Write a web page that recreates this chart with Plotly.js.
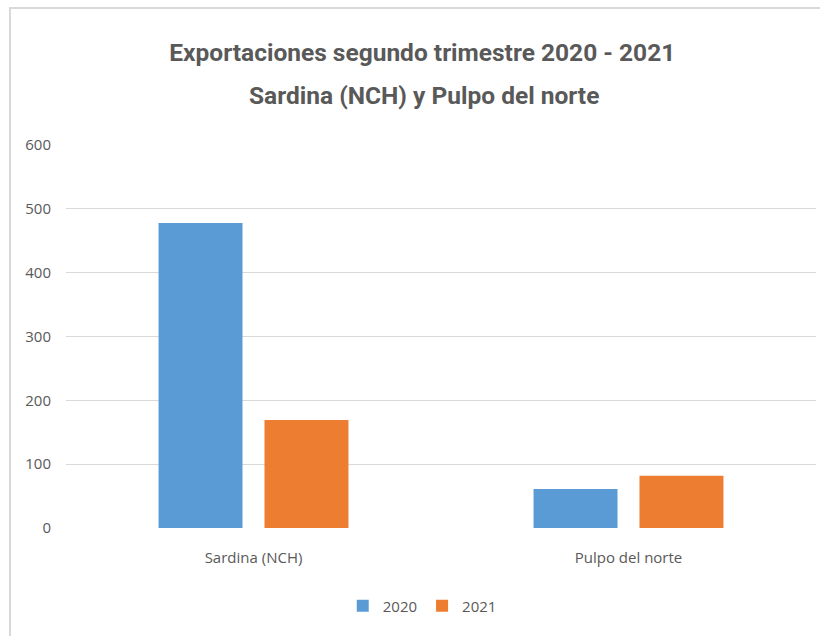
<!DOCTYPE html>
<html>
<head>
<meta charset="utf-8">
<script src="https://cdn.plot.ly/plotly-3.0.1.min.js"></script>
<style>
  html, body { margin: 0; padding: 0; background: #fff; }
  #frame { position: absolute; left: 9px; top: 7px; width: 811px; height: 629px;
           border-left: 2px solid #d9d9d9; border-top: 2px solid #d9d9d9; }
  #chart { position: absolute; left: 0; top: 0; width: 820px; height: 636px; }
</style>
</head>
<body>
<div id="frame"></div>
<div id="chart"></div>
<script>
const categories = ["Sardina (NCH)", "Pulpo del norte"];
const series2020 = [478, 61];
const series2021 = [169, 82];
const seriesNames = ["2020", "2021"];
const yTicks = [0, 100, 200, 300, 400, 500, 600];
const titleLine1 = "Exportaciones segundo trimestre 2020 - 2021";
const titleLine2 = "Sardina (NCH) y Pulpo del norte";

const fontFam = "'Open Sans', sans-serif";
const titleFam = "Roboto, 'Open Sans', sans-serif";

const data = [
  { type: "bar", name: seriesNames[0], x: categories, y: series2020,
    marker: { color: "#5B9BD5" }, hoverinfo: "none" },
  { type: "bar", name: seriesNames[1], x: categories, y: series2021,
    marker: { color: "#ED7D31" }, hoverinfo: "none" }
];

const layout = {
  width: 820, height: 636,
  paper_bgcolor: "rgba(0,0,0,0)", plot_bgcolor: "rgba(0,0,0,0)",
  margin: { l: 66, r: 4, t: 145, b: 108 },
  barmode: "group", bargap: 0.435, bargroupgap: 0.2075,
  title: {
    text: "<b>" + titleLine1 + "</b>",
    font: { family: titleFam, size: 24.5, color: "#595959" },
    x: 0.515, xanchor: "center", xref: "container",
    y: 1 - 52 / 636, yanchor: "middle", yref: "container"
  },
  annotations: [{
    text: "<b>" + titleLine2 + "</b>",
    font: { family: titleFam, size: 24.5, color: "#595959" },
    xref: "paper", yref: "paper", showarrow: false,
    x: (424 - 66) / 750, xanchor: "center",
    y: (528 - 95) / 383, yanchor: "middle"
  }],
  xaxis: {
    type: "category", range: [-0.5, 1.5], showgrid: false, zeroline: false,
    showline: false, ticks: "outside", ticklen: 16, tickcolor: "rgba(0,0,0,0)",
    tickfont: { family: fontFam, size: 15, color: "#595959" }
  },
  yaxis: {
    range: [0, 600], tickvals: yTicks, ticktext: yTicks.map(String),
    showgrid: true, gridcolor: "#d9d9d9", gridwidth: 1.3, zeroline: false,
    showline: false, ticks: "outside", ticklen: 11, tickcolor: "rgba(0,0,0,0)",
    tickfont: { family: fontFam, size: 15, color: "#595959" }
  },
  showlegend: true,
  legend: {
    orientation: "h", x: 0.475, xanchor: "center", y: -78 / 383, yanchor: "middle",
    font: { family: fontFam, size: 15, color: "#595959" },
    itemwidth: 30, traceorder: "normal"
  }
};

Plotly.newPlot("chart", data, layout, { staticPlot: true });
</script>
</body>
</html>
